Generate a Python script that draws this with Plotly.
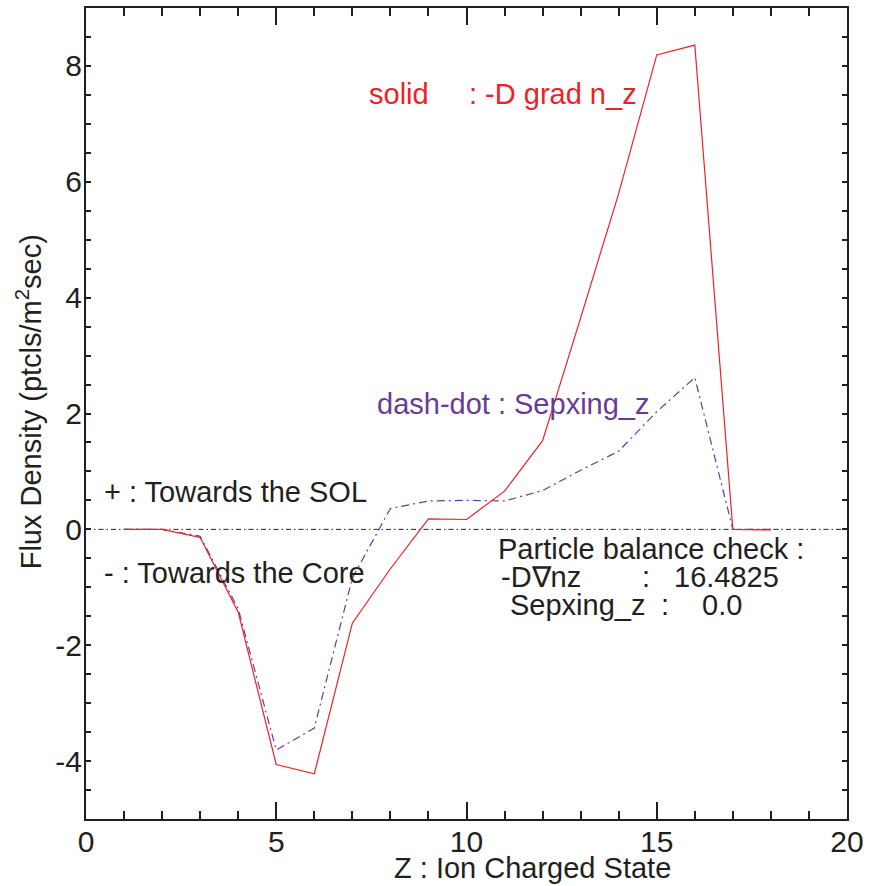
import plotly.graph_objects as go

# Ion charge states and the two radial flux profiles
charge_state = [1, 2, 3, 4, 5, 6, 7, 8, 9, 10, 11, 12, 13, 14, 15, 16, 17, 18]
diffusive_flux = [0.0, 0.0, -0.14, -1.43, -4.06, -4.22, -1.62, -0.68, 0.18, 0.17,
                  0.66, 1.53, 3.65, 5.80, 8.19, 8.36, 0.0, -0.01]
sepxing_flux = [0.0, 0.0, -0.12, -1.37, -3.81, -3.43, -0.84, 0.36, 0.49, 0.50,
                0.49, 0.67, 1.02, 1.35, 2.03, 2.62, 0.0, 0.0]

x_ticks = [0, 5, 10, 15, 20]
y_ticks = [-4, -2, 0, 2, 4, 6, 8]
y_tick_text = ["-4", "-2", "0", "2", "4", "6", "8"]

balance_grad = "16.4825"
balance_sep = "0.0"

INK = "#231f20"
RED = "#ec2227"
PURPLE = "#6a3a97"
FONT = "Liberation Sans, Arial, Helvetica, sans-serif"
TXT = 29
TICK = 30

W, H = 870, 886
L, R, T, B = 86, 19, 6, 67
PW, PH = W - L - R, H - T - B


def px(xp):
    return (xp - L) / PW


def py(yp):
    return (H - B - yp) / PH


fig = go.Figure()

# zero reference line
fig.add_trace(go.Scatter(
    x=[0, 20], y=[0, 0], mode="lines",
    line=dict(color=INK, width=1, dash="5px,3px,1.5px,3px"),
    showlegend=False, hoverinfo="skip"))

fig.add_trace(go.Scatter(
    x=charge_state, y=sepxing_flux, mode="lines",
    line=dict(color=PURPLE, width=1.2, dash="8px,4px,2px,4px"),
    showlegend=False))

fig.add_trace(go.Scatter(
    x=charge_state, y=diffusive_flux, mode="lines",
    line=dict(color=RED, width=1.2),
    showlegend=False))

fig.update_xaxes(
    range=[0, 20], tickvals=x_ticks, ticklen=17,
    showline=True, linecolor=INK, linewidth=2, mirror="ticks",
    ticks="inside", tickcolor=INK, tickwidth=1.5,
    showgrid=False, zeroline=False,
    tickfont=dict(family=FONT, size=TICK, color=INK),
    minor=dict(dtick=1, ticks="inside", ticklen=8, tickcolor=INK, tickwidth=1.5, showgrid=False),
    ticklabelstandoff=-5,
)
fig.update_yaxes(
    range=[-5, 9], tickvals=y_ticks, ticktext=y_tick_text, ticklen=5,
    showline=True, linecolor=INK, linewidth=2, mirror="ticks",
    ticks="inside", tickcolor=INK, tickwidth=1.5,
    showgrid=False, zeroline=False,
    tickfont=dict(family=FONT, size=TICK, color=INK),
    minor=dict(dtick=0.5, ticks="inside", ticklen=5, tickcolor=INK, tickwidth=1.5, showgrid=False),
    ticklabelstandoff=-4,
)


def note(text, xp, yp, color=INK, size=TXT, xanchor="left"):
    fig.add_annotation(
        text=text, x=px(xp), y=py(yp), xref="paper", yref="paper",
        xanchor=xanchor, yanchor="middle", showarrow=False,
        font=dict(family=FONT, size=size, color=color))


note("solid", 368, 92, RED)
note(": -D grad n_z", 469, 92, RED)
note("dash-dot : Sepxing_z", 377, 403, PURPLE)
note("+ : Towards the SOL", 102, 491)
note("- : Towards the Core", 102, 572)
note("Particle balance check :", 498, 548)
note("-D\u2207nz", 501, 576)
note(":", 643, 576)
note(balance_grad, 675, 576)
note("Sepxing_z", 510, 604)
note(":", 662, 604)
note(balance_sep, 703, 604)

# axis titles
note("Z : Ion Charged State", 535, 868, xanchor="center")
fig.add_annotation(
    text="Flux Density (ptcls/m<sup>2</sup>sec)", x=px(29), y=py(401),
    xref="paper", yref="paper", xanchor="center", yanchor="middle",
    textangle=-90, showarrow=False,
    font=dict(family=FONT, size=TXT, color=INK))

fig.update_layout(
    width=W, height=H,
    margin=dict(l=L, r=R, t=T, b=B, pad=0),
    paper_bgcolor="white", plot_bgcolor="white",
    font=dict(family=FONT, color=INK),
)

fig.write_html("out.html")
